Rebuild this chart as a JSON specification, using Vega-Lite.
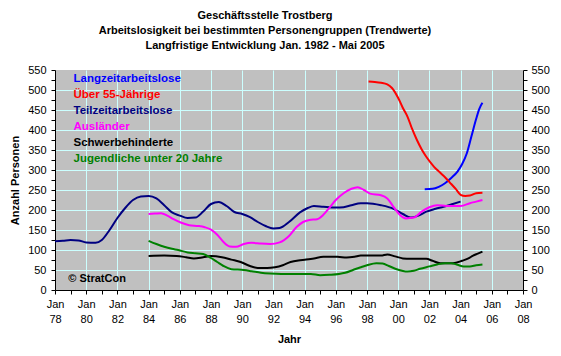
{
  "$schema": "https://vega.github.io/schema/vega-lite/v6.json",
  "width": 468,
  "height": 220,
  "autosize": "none",
  "padding": {"left": 55, "top": 70, "right": 38, "bottom": 66},
  "background": "white",
  "title": {
    "text": ["Geschäftsstelle Trostberg", "Arbeitslosigkeit bei bestimmten Personengruppen (Trendwerte)", "Langfristige Entwicklung Jan. 1982 - Mai 2005"],
    "font": "Liberation Sans", "fontSize": 11, "fontWeight": "bold", "color": "black",
    "lineHeight": 15, "anchor": "middle", "frame": "group", "dx": -24, "offset": 13
  },
  "config": {
    "view": {"fill": "#C0C0C0", "stroke": null},
    "font": "Liberation Sans",
    "axis": {
      "domainColor": "black", "tickColor": "black", "labelColor": "black", "titleColor": "black",
      "labelFont": "Liberation Sans", "labelFontSize": 11, "titleFont": "Liberation Sans", "titleFontSize": 11, "titleFontWeight": "bold",
      "tickSize": 4, "labelFlush": false, "labelOverlap": false, "labelBound": false, "gridColor": "#CCFFFF", "gridWidth": 1
    }
  },
  "data": {"values": [
    {"g": "Teilzeitarbeitslose", "t": 1978.0, "v": 122},
    {"g": "Teilzeitarbeitslose", "t": 1978.5, "v": 123},
    {"g": "Teilzeitarbeitslose", "t": 1979.0, "v": 125},
    {"g": "Teilzeitarbeitslose", "t": 1979.5, "v": 124},
    {"g": "Teilzeitarbeitslose", "t": 1980.0, "v": 119},
    {"g": "Teilzeitarbeitslose", "t": 1980.6, "v": 118},
    {"g": "Teilzeitarbeitslose", "t": 1981.0, "v": 125},
    {"g": "Teilzeitarbeitslose", "t": 1981.5, "v": 150},
    {"g": "Teilzeitarbeitslose", "t": 1982.0, "v": 180},
    {"g": "Teilzeitarbeitslose", "t": 1982.5, "v": 205},
    {"g": "Teilzeitarbeitslose", "t": 1983.0, "v": 225},
    {"g": "Teilzeitarbeitslose", "t": 1983.5, "v": 234},
    {"g": "Teilzeitarbeitslose", "t": 1984.0, "v": 235},
    {"g": "Teilzeitarbeitslose", "t": 1984.5, "v": 229},
    {"g": "Teilzeitarbeitslose", "t": 1985.0, "v": 212},
    {"g": "Teilzeitarbeitslose", "t": 1985.5, "v": 194},
    {"g": "Teilzeitarbeitslose", "t": 1986.0, "v": 186},
    {"g": "Teilzeitarbeitslose", "t": 1986.5, "v": 180},
    {"g": "Teilzeitarbeitslose", "t": 1987.0, "v": 181},
    {"g": "Teilzeitarbeitslose", "t": 1987.5, "v": 196},
    {"g": "Teilzeitarbeitslose", "t": 1988.0, "v": 215},
    {"g": "Teilzeitarbeitslose", "t": 1988.5, "v": 220},
    {"g": "Teilzeitarbeitslose", "t": 1989.0, "v": 210},
    {"g": "Teilzeitarbeitslose", "t": 1989.5, "v": 195},
    {"g": "Teilzeitarbeitslose", "t": 1990.0, "v": 190},
    {"g": "Teilzeitarbeitslose", "t": 1990.5, "v": 182},
    {"g": "Teilzeitarbeitslose", "t": 1991.0, "v": 170},
    {"g": "Teilzeitarbeitslose", "t": 1991.5, "v": 160},
    {"g": "Teilzeitarbeitslose", "t": 1992.0, "v": 154},
    {"g": "Teilzeitarbeitslose", "t": 1992.4, "v": 155},
    {"g": "Teilzeitarbeitslose", "t": 1993.0, "v": 170},
    {"g": "Teilzeitarbeitslose", "t": 1993.7, "v": 194},
    {"g": "Teilzeitarbeitslose", "t": 1994.2, "v": 205},
    {"g": "Teilzeitarbeitslose", "t": 1994.6, "v": 210},
    {"g": "Teilzeitarbeitslose", "t": 1995.2, "v": 208},
    {"g": "Teilzeitarbeitslose", "t": 1996.0, "v": 206},
    {"g": "Teilzeitarbeitslose", "t": 1996.5, "v": 207},
    {"g": "Teilzeitarbeitslose", "t": 1997.0, "v": 212},
    {"g": "Teilzeitarbeitslose", "t": 1997.6, "v": 217},
    {"g": "Teilzeitarbeitslose", "t": 1998.0, "v": 217},
    {"g": "Teilzeitarbeitslose", "t": 1998.9, "v": 212},
    {"g": "Teilzeitarbeitslose", "t": 1999.7, "v": 203},
    {"g": "Teilzeitarbeitslose", "t": 2000.3, "v": 190},
    {"g": "Teilzeitarbeitslose", "t": 2000.8, "v": 181},
    {"g": "Teilzeitarbeitslose", "t": 2001.3, "v": 186},
    {"g": "Teilzeitarbeitslose", "t": 2001.8, "v": 196},
    {"g": "Teilzeitarbeitslose", "t": 2002.4, "v": 203},
    {"g": "Teilzeitarbeitslose", "t": 2002.9, "v": 208},
    {"g": "Teilzeitarbeitslose", "t": 2003.5, "v": 215},
    {"g": "Teilzeitarbeitslose", "t": 2004.0, "v": 221},
    {"g": "Langzeitarbeitslose", "t": 2001.7, "v": 252},
    {"g": "Langzeitarbeitslose", "t": 2002.2, "v": 253},
    {"g": "Langzeitarbeitslose", "t": 2002.6, "v": 258},
    {"g": "Langzeitarbeitslose", "t": 2003.0, "v": 267},
    {"g": "Langzeitarbeitslose", "t": 2003.4, "v": 280},
    {"g": "Langzeitarbeitslose", "t": 2003.8, "v": 296},
    {"g": "Langzeitarbeitslose", "t": 2004.1, "v": 315},
    {"g": "Langzeitarbeitslose", "t": 2004.4, "v": 342},
    {"g": "Langzeitarbeitslose", "t": 2004.7, "v": 385},
    {"g": "Langzeitarbeitslose", "t": 2005.0, "v": 428},
    {"g": "Langzeitarbeitslose", "t": 2005.2, "v": 453},
    {"g": "Langzeitarbeitslose", "t": 2005.4, "v": 468},
    {"g": "Über 55-Jährige", "t": 1998.1, "v": 521},
    {"g": "Über 55-Jährige", "t": 1998.5, "v": 520},
    {"g": "Über 55-Jährige", "t": 1998.9, "v": 518},
    {"g": "Über 55-Jährige", "t": 1999.3, "v": 514},
    {"g": "Über 55-Jährige", "t": 1999.6, "v": 505},
    {"g": "Über 55-Jährige", "t": 2000.0, "v": 480},
    {"g": "Über 55-Jährige", "t": 2000.3, "v": 455},
    {"g": "Über 55-Jährige", "t": 2000.6, "v": 433},
    {"g": "Über 55-Jährige", "t": 2000.9, "v": 402},
    {"g": "Über 55-Jährige", "t": 2001.2, "v": 375},
    {"g": "Über 55-Jährige", "t": 2001.5, "v": 352},
    {"g": "Über 55-Jährige", "t": 2001.8, "v": 333},
    {"g": "Über 55-Jährige", "t": 2002.3, "v": 308},
    {"g": "Über 55-Jährige", "t": 2002.7, "v": 293},
    {"g": "Über 55-Jährige", "t": 2003.0, "v": 282},
    {"g": "Über 55-Jährige", "t": 2003.4, "v": 265},
    {"g": "Über 55-Jährige", "t": 2003.7, "v": 252},
    {"g": "Über 55-Jährige", "t": 2004.0, "v": 238},
    {"g": "Über 55-Jährige", "t": 2004.3, "v": 235},
    {"g": "Über 55-Jährige", "t": 2004.6, "v": 236},
    {"g": "Über 55-Jährige", "t": 2005.0, "v": 242},
    {"g": "Über 55-Jährige", "t": 2005.4, "v": 243},
    {"g": "Ausländer", "t": 1984.0, "v": 190},
    {"g": "Ausländer", "t": 1984.4, "v": 191},
    {"g": "Ausländer", "t": 1984.8, "v": 192},
    {"g": "Ausländer", "t": 1985.2, "v": 186},
    {"g": "Ausländer", "t": 1985.6, "v": 177},
    {"g": "Ausländer", "t": 1986.1, "v": 168},
    {"g": "Ausländer", "t": 1986.6, "v": 162},
    {"g": "Ausländer", "t": 1987.2, "v": 160},
    {"g": "Ausländer", "t": 1987.6, "v": 157},
    {"g": "Ausländer", "t": 1988.0, "v": 151},
    {"g": "Ausländer", "t": 1988.4, "v": 138},
    {"g": "Ausländer", "t": 1988.8, "v": 120},
    {"g": "Ausländer", "t": 1989.2, "v": 109},
    {"g": "Ausländer", "t": 1989.6, "v": 108},
    {"g": "Ausländer", "t": 1990.1, "v": 115},
    {"g": "Ausländer", "t": 1990.6, "v": 118},
    {"g": "Ausländer", "t": 1991.2, "v": 116},
    {"g": "Ausländer", "t": 1991.8, "v": 115},
    {"g": "Ausländer", "t": 1992.4, "v": 119},
    {"g": "Ausländer", "t": 1993.0, "v": 135},
    {"g": "Ausländer", "t": 1993.5, "v": 158},
    {"g": "Ausländer", "t": 1993.9, "v": 170},
    {"g": "Ausländer", "t": 1994.3, "v": 175},
    {"g": "Ausländer", "t": 1994.8, "v": 177},
    {"g": "Ausländer", "t": 1995.2, "v": 188},
    {"g": "Ausländer", "t": 1995.6, "v": 206},
    {"g": "Ausländer", "t": 1996.0, "v": 225},
    {"g": "Ausländer", "t": 1996.5, "v": 242},
    {"g": "Ausländer", "t": 1997.0, "v": 253},
    {"g": "Ausländer", "t": 1997.4, "v": 257},
    {"g": "Ausländer", "t": 1997.8, "v": 250},
    {"g": "Ausländer", "t": 1998.2, "v": 241},
    {"g": "Ausländer", "t": 1998.9, "v": 237},
    {"g": "Ausländer", "t": 1999.3, "v": 229},
    {"g": "Ausländer", "t": 1999.7, "v": 208},
    {"g": "Ausländer", "t": 2000.1, "v": 188},
    {"g": "Ausländer", "t": 2000.5, "v": 179},
    {"g": "Ausländer", "t": 2001.0, "v": 181},
    {"g": "Ausländer", "t": 2001.5, "v": 196},
    {"g": "Ausländer", "t": 2002.0, "v": 207},
    {"g": "Ausländer", "t": 2002.5, "v": 212},
    {"g": "Ausländer", "t": 2003.1, "v": 210},
    {"g": "Ausländer", "t": 2004.0, "v": 210},
    {"g": "Ausländer", "t": 2004.6, "v": 217},
    {"g": "Ausländer", "t": 2005.0, "v": 221},
    {"g": "Ausländer", "t": 2005.4, "v": 225},
    {"g": "Schwerbehinderte", "t": 1984.0, "v": 85},
    {"g": "Schwerbehinderte", "t": 1985.0, "v": 86},
    {"g": "Schwerbehinderte", "t": 1985.8, "v": 85},
    {"g": "Schwerbehinderte", "t": 1986.4, "v": 82},
    {"g": "Schwerbehinderte", "t": 1986.9, "v": 79},
    {"g": "Schwerbehinderte", "t": 1987.5, "v": 82},
    {"g": "Schwerbehinderte", "t": 1988.0, "v": 85},
    {"g": "Schwerbehinderte", "t": 1988.7, "v": 82},
    {"g": "Schwerbehinderte", "t": 1989.3, "v": 76},
    {"g": "Schwerbehinderte", "t": 1989.9, "v": 70},
    {"g": "Schwerbehinderte", "t": 1990.5, "v": 60},
    {"g": "Schwerbehinderte", "t": 1991.0, "v": 55},
    {"g": "Schwerbehinderte", "t": 1991.6, "v": 55},
    {"g": "Schwerbehinderte", "t": 1992.1, "v": 57},
    {"g": "Schwerbehinderte", "t": 1992.6, "v": 62},
    {"g": "Schwerbehinderte", "t": 1993.1, "v": 70},
    {"g": "Schwerbehinderte", "t": 1993.6, "v": 74},
    {"g": "Schwerbehinderte", "t": 1994.1, "v": 76},
    {"g": "Schwerbehinderte", "t": 1994.6, "v": 79},
    {"g": "Schwerbehinderte", "t": 1995.2, "v": 83},
    {"g": "Schwerbehinderte", "t": 1996.1, "v": 83},
    {"g": "Schwerbehinderte", "t": 1996.7, "v": 81},
    {"g": "Schwerbehinderte", "t": 1997.2, "v": 83},
    {"g": "Schwerbehinderte", "t": 1997.6, "v": 86},
    {"g": "Schwerbehinderte", "t": 1998.9, "v": 86},
    {"g": "Schwerbehinderte", "t": 1999.3, "v": 89},
    {"g": "Schwerbehinderte", "t": 1999.8, "v": 84},
    {"g": "Schwerbehinderte", "t": 2000.3, "v": 79},
    {"g": "Schwerbehinderte", "t": 2000.8, "v": 78},
    {"g": "Schwerbehinderte", "t": 2001.8, "v": 78},
    {"g": "Schwerbehinderte", "t": 2002.2, "v": 73},
    {"g": "Schwerbehinderte", "t": 2002.7, "v": 67},
    {"g": "Schwerbehinderte", "t": 2003.5, "v": 67},
    {"g": "Schwerbehinderte", "t": 2004.1, "v": 73},
    {"g": "Schwerbehinderte", "t": 2004.5, "v": 79},
    {"g": "Schwerbehinderte", "t": 2004.8, "v": 86},
    {"g": "Schwerbehinderte", "t": 2005.1, "v": 91},
    {"g": "Schwerbehinderte", "t": 2005.4, "v": 96},
    {"g": "Jugendliche unter 20 Jahre", "t": 1984.0, "v": 123},
    {"g": "Jugendliche unter 20 Jahre", "t": 1984.5, "v": 115},
    {"g": "Jugendliche unter 20 Jahre", "t": 1985.0, "v": 108},
    {"g": "Jugendliche unter 20 Jahre", "t": 1985.5, "v": 103},
    {"g": "Jugendliche unter 20 Jahre", "t": 1985.9, "v": 100},
    {"g": "Jugendliche unter 20 Jahre", "t": 1986.5, "v": 94},
    {"g": "Jugendliche unter 20 Jahre", "t": 1987.0, "v": 92},
    {"g": "Jugendliche unter 20 Jahre", "t": 1987.5, "v": 90},
    {"g": "Jugendliche unter 20 Jahre", "t": 1988.0, "v": 80},
    {"g": "Jugendliche unter 20 Jahre", "t": 1988.4, "v": 70},
    {"g": "Jugendliche unter 20 Jahre", "t": 1988.8, "v": 60},
    {"g": "Jugendliche unter 20 Jahre", "t": 1989.3, "v": 52},
    {"g": "Jugendliche unter 20 Jahre", "t": 1990.1, "v": 50},
    {"g": "Jugendliche unter 20 Jahre", "t": 1990.6, "v": 47},
    {"g": "Jugendliche unter 20 Jahre", "t": 1991.2, "v": 43},
    {"g": "Jugendliche unter 20 Jahre", "t": 1991.8, "v": 41},
    {"g": "Jugendliche unter 20 Jahre", "t": 1992.5, "v": 40},
    {"g": "Jugendliche unter 20 Jahre", "t": 1993.5, "v": 40},
    {"g": "Jugendliche unter 20 Jahre", "t": 1994.4, "v": 40},
    {"g": "Jugendliche unter 20 Jahre", "t": 1995.0, "v": 37},
    {"g": "Jugendliche unter 20 Jahre", "t": 1995.6, "v": 38},
    {"g": "Jugendliche unter 20 Jahre", "t": 1996.2, "v": 40},
    {"g": "Jugendliche unter 20 Jahre", "t": 1996.6, "v": 43},
    {"g": "Jugendliche unter 20 Jahre", "t": 1997.1, "v": 50},
    {"g": "Jugendliche unter 20 Jahre", "t": 1997.6, "v": 57},
    {"g": "Jugendliche unter 20 Jahre", "t": 1998.0, "v": 62},
    {"g": "Jugendliche unter 20 Jahre", "t": 1998.6, "v": 67},
    {"g": "Jugendliche unter 20 Jahre", "t": 1999.0, "v": 66},
    {"g": "Jugendliche unter 20 Jahre", "t": 1999.4, "v": 60},
    {"g": "Jugendliche unter 20 Jahre", "t": 1999.9, "v": 52},
    {"g": "Jugendliche unter 20 Jahre", "t": 2000.6, "v": 46},
    {"g": "Jugendliche unter 20 Jahre", "t": 2001.0, "v": 48},
    {"g": "Jugendliche unter 20 Jahre", "t": 2001.4, "v": 53},
    {"g": "Jugendliche unter 20 Jahre", "t": 2002.0, "v": 59},
    {"g": "Jugendliche unter 20 Jahre", "t": 2002.5, "v": 64},
    {"g": "Jugendliche unter 20 Jahre", "t": 2003.0, "v": 67},
    {"g": "Jugendliche unter 20 Jahre", "t": 2003.4, "v": 67},
    {"g": "Jugendliche unter 20 Jahre", "t": 2003.8, "v": 63},
    {"g": "Jugendliche unter 20 Jahre", "t": 2004.2, "v": 59},
    {"g": "Jugendliche unter 20 Jahre", "t": 2004.6, "v": 59},
    {"g": "Jugendliche unter 20 Jahre", "t": 2005.0, "v": 62},
    {"g": "Jugendliche unter 20 Jahre", "t": 2005.4, "v": 64}
  ]},
  "encoding": {
    "x": {
      "field": "t", "type": "quantitative",
      "scale": {"domain": [1978, 2008], "nice": false, "zero": false},
      "axis": {
        "title": "Jahr", "titlePadding": 9,
        "values": [1978,1979,1980,1981,1982,1983,1984,1985,1986,1987,1988,1989,1990,1991,1992,1993,1994,1995,1996,1997,1998,1999,2000,2001,2002,2003,2004,2005,2006,2007,2008],
        "labelExpr": "datum.value % 2 == 0 ? ['Jan', slice('' + datum.value, 2)] : ''",
        "labelLineHeight": 15, "labelPadding": 4,
        "grid": true,
        "gridOpacity": {"condition": {"test": "datum.value % 2 == 0 && datum.value > 1978 && datum.value < 2008", "value": 1}, "value": 0}
      }
    }
  },
  "layer": [
    {
      "mark": {"type": "line", "strokeWidth": 2, "interpolate": "monotone"},
      "encoding": {
        "y": {
          "field": "v", "type": "quantitative",
          "scale": {"domain": [0, 550], "nice": false, "zero": false},
          "axis": {
            "title": "Anzahl Personen", "titlePadding": 7,
            "values": [0,25,50,75,100,125,150,175,200,225,250,275,300,325,350,375,400,425,450,475,500,525,550],
            "labelExpr": "datum.value % 50 == 0 ? datum.label : ''",
            "labelPadding": 5,
            "grid": true,
            "gridOpacity": {"condition": {"test": "datum.value % 50 == 0 && datum.value > 0 && datum.value < 550", "value": 1}, "value": 0}
          }
        },
        "color": {
          "field": "g", "type": "nominal",
          "scale": {
            "domain": ["Langzeitarbeitslose", "Über 55-Jährige", "Teilzeitarbeitslose", "Ausländer", "Schwerbehinderte", "Jugendliche unter 20 Jahre"],
            "range": ["#0000FF", "#FF0000", "#000080", "#FF00FF", "#000000", "#008000"]
          },
          "legend": {
            "title": null, "orient": "none", "legendX": 7, "legendY": 3,
            "symbolSize": 0, "symbolStrokeWidth": 0, "symbolOpacity": 0, "labelOffset": 0, "padding": 0,
            "rowPadding": 3, "labelFont": "Liberation Sans", "labelFontSize": 11.5, "labelFontWeight": "bold",
            "labelLimit": 300, "labelColor": {"expr": "scale('color', datum.value)"}
          }
        }
      }
    },
    {
      "mark": {"type": "line", "opacity": 0},
      "encoding": {
        "y": {
          "field": "v", "type": "quantitative",
          "scale": {"domain": [0, 550], "nice": false, "zero": false},
          "axis": {
            "orient": "right", "title": null,
            "values": [0,25,50,75,100,125,150,175,200,225,250,275,300,325,350,375,400,425,450,475,500,525,550],
            "labelExpr": "datum.value % 50 == 0 ? datum.label : ''",
            "labelPadding": 4, "grid": false
          }
        },
        "detail": {"field": "g", "type": "nominal"}
      }
    },
    {
      "data": {"values": [{"t": 1978.85, "v": 27, "label": "© StratCon"}]},
      "mark": {"type": "text", "align": "left", "baseline": "middle", "font": "Liberation Sans", "fontSize": 11, "fontWeight": "bold", "color": "black"},
      "encoding": {
        "y": {"field": "v", "type": "quantitative", "scale": {"domain": [0, 550], "nice": false, "zero": false}, "axis": null},
        "text": {"field": "label"}
      }
    }
  ],
  "resolve": {"scale": {"y": "independent"}}
}
